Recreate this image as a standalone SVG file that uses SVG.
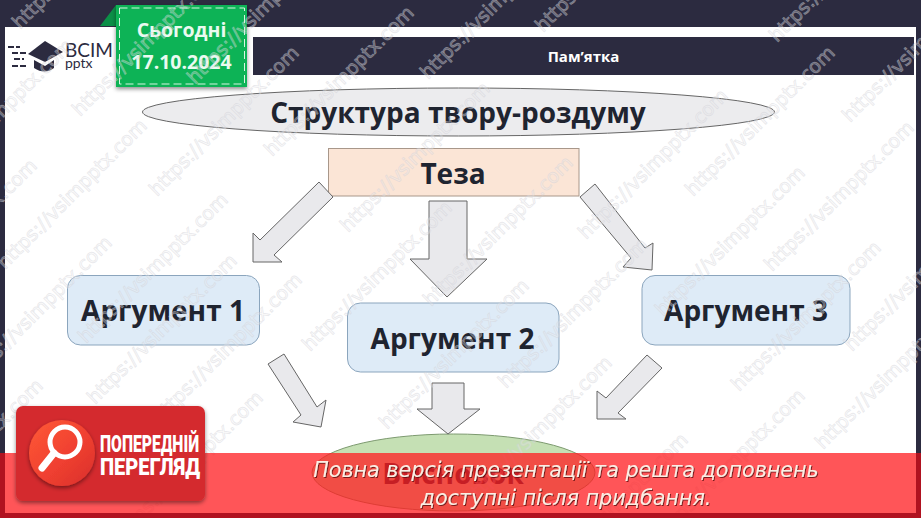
<svg xmlns="http://www.w3.org/2000/svg" width="921" height="518" viewBox="0 0 921 518">
<style>
.arrow{fill:#e9e9ec;stroke:#666;stroke-width:1}
.arg{fill:#deebf7;stroke:#8ba5bd;stroke-width:1}
.big{font-family:"Open Sans","Noto Sans",sans-serif;font-weight:700;fill:#1f2430;text-anchor:middle}
.wm text{font-family:"DejaVu Sans",sans-serif;font-size:19px;fill:#fff;fill-opacity:.22;stroke:#cfcfd6;stroke-opacity:.45;stroke-width:.9}
.ban{font-family:"DejaVu Sans",sans-serif;font-style:italic;font-size:20.7px;fill:#fbeee4;text-anchor:middle;filter:url(#ts)}
.pop{font-family:"Roboto",sans-serif;font-weight:900;font-size:23px;fill:#fff}
.dt{font-family:"Open Sans",sans-serif;font-weight:700;font-size:19.5px;fill:#eafaf0;text-anchor:middle}
</style>
<defs>
<filter id="sh" x="-10%" y="-10%" width="120%" height="125%"><feDropShadow dx="0" dy="2" stdDeviation="2" flood-color="#000" flood-opacity=".45"/></filter>
<filter id="ts" x="-5%" y="-20%" width="110%" height="150%"><feDropShadow dx="1" dy="1" stdDeviation=".7" flood-color="#5a1010" flood-opacity=".8"/></filter>
<linearGradient id="lens" x1="0" y1="0" x2="1" y2="1"><stop offset="0" stop-color="#ff5a36"/><stop offset=".55" stop-color="#f04030"/><stop offset="1" stop-color="#d92f2c"/></linearGradient>
</defs>

<rect width="921" height="518" fill="#2c2b40"/>
<rect x="5" y="27" width="911" height="486" fill="#fff"/>
<rect x="253" y="37" width="661" height="38" fill="#2c2b40"/>

<g id="title"><ellipse cx="458.5" cy="112" rx="316" ry="24" fill="#ececee" stroke="#666"/>
<text class="big" x="458" y="123" font-size="28">Структура твору-роздуму</text></g>

<g id="teza"><rect x="328.5" y="148.5" width="250.5" height="47.5" fill="#fbe5d6" stroke="#a8978a"/>
<text class="big" x="453" y="184" font-size="28">Теза</text></g>

<g id="arg1"><rect class="arg" x="67.5" y="275.5" width="192" height="69.5" rx="13"/>
<text class="big" x="163" y="321" font-size="28">Аргумент 1</text></g>
<g id="arg2"><rect class="arg" x="347.5" y="303" width="211.5" height="69" rx="13"/>
<text class="big" x="452.5" y="349" font-size="28">Аргумент 2</text></g>
<g id="arg3"><rect class="arg" x="642" y="275.5" width="208" height="69.5" rx="13"/>
<text class="big" x="746" y="321" font-size="28">Аргумент 3</text></g>

<g id="concl"><ellipse cx="453.5" cy="472.5" rx="141.5" ry="38.5" fill="#c5e0b4" stroke="#7d9a70"/>
<text class="big" x="453" y="484" font-size="28">Висновок</text></g>

<g id="connectors">
<polygon class="arrow" points="319,182 333,197 274,255 282,262 253,262 253,233 260,240"/>
<polygon class="arrow" points="429,201 467,201 467,259 487,259 447,297 410,259 429,259"/>
<polygon class="arrow" points="595,184 645,248 653,243 652,270 623,267 631,258 580,197"/>
<polygon class="arrow" points="284,354 317,407 326,400 321,427 293,422 301,415 268,364"/>
<polygon class="arrow" points="432,383 464,383 464,409 480,409 448,434 417,409 432,409"/>
<polygon class="arrow" points="647,355 662,368 618,413 626,419 597,419 597,391 606,398"/>
</g>

<g id="logo" fill="#2c2b40">
<polygon points="28,54 45,41 63,52 45,62"/>
<path d="M34 60 L45 66 L54 60 L54 68 Q45 75 34 68Z"/>
<path d="M8 47h12M12 53h14M14 59h10M12 66h14" stroke="#2c2b40" stroke-width="2" stroke-dasharray="6 2" fill="none"/>
<text x="65" y="57" font-family="Lato,'Open Sans',sans-serif" font-size="19" fill="#2c2b40">ВСІМ</text>
<text x="65" y="68" font-family="Lato,'Open Sans',sans-serif" font-size="14" fill="#2c2b40">pptx</text>
</g>

<g id="date">
<polygon points="100,26 116,5 116,26" fill="#0b8f47"/>
<rect x="116" y="5" width="131" height="82" fill="#0fb356" filter="url(#sh)"/>
<rect x="119.5" y="8" width="125" height="76" fill="none" stroke="#d8f5e2" stroke-width="1" stroke-dasharray="8 4"/>
<text class="dt" x="181.500" y="37">Сьогодні</text>
<text class="dt" x="181.500" y="69">17.10.2024</text>
</g>

<text x="583.500" y="62" font-family="'Open Sans',sans-serif" font-weight="700" font-size="15" fill="#fff" text-anchor="middle">Пам’ятка</text>

<g class="wm">
<text transform="translate(-69,190) rotate(-45)">https://vsimpptx.com</text>
<text transform="translate(20,30) rotate(-45)">https://vsimpptx.com</text>
<text transform="translate(80,117) rotate(-45)">https://vsimpptx.com</text>
<text transform="translate(195,85) rotate(-45)">https://vsimpptx.com</text>
<text transform="translate(5,270) rotate(-45)">https://vsimpptx.com</text>
<text transform="translate(86,344) rotate(-45)">https://vsimpptx.com</text>
<text transform="translate(-105,310) rotate(-45)">https://vsimpptx.com</text>
<text transform="translate(-30,387) rotate(-45)">https://vsimpptx.com</text>
<text transform="translate(157,197) rotate(-45)">https://vsimpptx.com</text>
<text transform="translate(272,157) rotate(-45)">https://vsimpptx.com</text>
<text transform="translate(348,233) rotate(-45)">https://vsimpptx.com</text>
<text transform="translate(428,80) rotate(-45)">https://vsimpptx.com</text>
<text transform="translate(431,307) rotate(-45)">https://vsimpptx.com</text>
<text transform="translate(543,33) rotate(-45)">https://vsimpptx.com</text>
<text transform="translate(586,240) rotate(-45)">https://vsimpptx.com</text>
<text transform="translate(506,389) rotate(-45)">https://vsimpptx.com</text>
<text transform="translate(777,43) rotate(-45)">https://vsimpptx.com</text>
<text transform="translate(693,197) rotate(-45)">https://vsimpptx.com</text>
<text transform="translate(663,317) rotate(-45)">https://vsimpptx.com</text>
<text transform="translate(772,272) rotate(-45)">https://vsimpptx.com</text>
<text transform="translate(739,392) rotate(-45)">https://vsimpptx.com</text>
<text transform="translate(160,424) rotate(-45)">https://vsimpptx.com</text>
<text transform="translate(121,542) rotate(-45)">https://vsimpptx.com</text>
<text transform="translate(310,352) rotate(-45)">https://vsimpptx.com</text>
<text transform="translate(387,430) rotate(-45)">https://vsimpptx.com</text>
<text transform="translate(470,507) rotate(-45)">https://vsimpptx.com</text>
<text transform="translate(663,540) rotate(-45)">https://vsimpptx.com</text>
<text transform="translate(546,584) rotate(-45)">https://vsimpptx.com</text>
<text transform="translate(850,123) rotate(-45)">https://vsimpptx.com</text>
<text transform="translate(852,352) rotate(-45)">https://vsimpptx.com</text>
<text transform="translate(823,450) rotate(-45)">https://vsimpptx.com</text>
<text transform="translate(-99,530) rotate(-45)">https://vsimpptx.com</text>
<text transform="translate(95,405) rotate(-45)">https://vsimpptx.com</text>
</g>

<g id="banner">
<rect x="0" y="453" width="921" height="65" fill="#ff1c20" opacity=".75"/>
<rect x="0" y="513" width="921" height="5" fill="#b01220"/>
<rect x="0" y="453" width="5" height="65" fill="#b01220"/>
<rect x="916" y="453" width="5" height="65" fill="#b01220"/>
<text class="ban" x="566" y="477">Повна версія презентації та решта доповнень</text>
<text class="ban" x="566" y="505">доступні після придбання.</text>
</g>

<g id="badge">
<rect x="16" y="406" width="189" height="95" rx="7" fill="#d42a2e" filter="url(#sh)"/>
<circle cx="62" cy="453" r="33" fill="url(#lens)" filter="url(#sh)"/>
<circle cx="65" cy="442" r="15" fill="none" stroke="#fff" stroke-width="5"/>
<path d="M54 453 L42 468" stroke="#fff" stroke-width="7" stroke-linecap="round"/>
<text class="pop" x="100" y="452" textLength="99" lengthAdjust="spacingAndGlyphs">ПОПЕРЕДНІЙ</text>
<text class="pop" x="100" y="475" textLength="100" lengthAdjust="spacingAndGlyphs">ПЕРЕГЛЯД</text>
</g>
</svg>
